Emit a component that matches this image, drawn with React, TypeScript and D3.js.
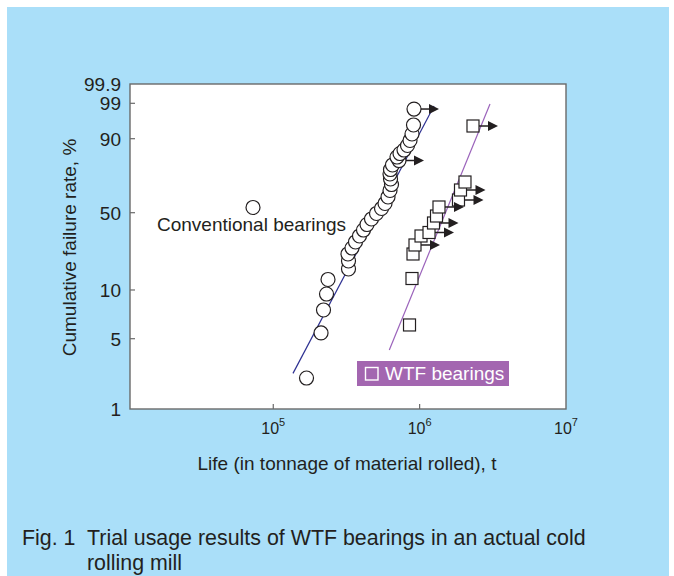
import React from "react";
import * as d3 from "d3";

// ---------------- data ----------------
const xTickExponents = [5, 6, 7];
const yTickValues = [1, 5, 10, 50, 90, 99, 99.9];
const yTickLabels = ["1", "5", "10", "50", "90", "99", "99.9"];

// Conventional bearings: life (t), cumulative failure rate (%), suspended (arrow)
const conventionalLife = [
  1.687e5, 2.12e5, 2.204e5, 2.311e5, 2.366e5, 3.266e5, 3.266e5, 3.24e5, 3.451e5, 3.646e5,
  3.883e5, 4.135e5, 4.369e5, 4.69e5, 5.074e5, 5.49e5, 7.27e4, 5.8e5, 6.081e5, 6.274e5,
  6.424e5, 6.324e5, 6.274e5, 6.324e5, 6.525e5, 7.228e5, 7.003e5, 7.342e5, 7.822e5, 8.263e5,
  8.595e5, 8.868e5, 9.081e5, 9.153e5,
];
const conventionalRate = [
  2.04, 5.43, 7.54, 9.45, 12.72, 16.12, 19.23, 22.38, 25.41, 28.78,
  32.49, 36.53, 40.54, 44.82, 49.33, 52.39, 52.96, 55.28, 59.11, 62.98,
  66.55, 69.81, 72.71, 75.26, 77.75, 80.14, 81.93, 83.65, 85.29, 87.28,
  89.32, 91.99, 95.08, 98.37,
];
const conventionalSuspended = [
  false, false, false, false, false, false, false, false, false, false,
  false, false, false, false, false, false, false, false, false, false,
  false, false, false, false, false, true, false, false, false, false,
  false, false, false, true,
];

// WTF bearings
const wtfLife = [
  8.528e5, 8.868e5, 9.01e5, 9.297e5, 1.022e6, 1.159e6, 1.244e6, 1.304e6, 1.356e6, 1.843e6,
  1.902e6, 2.041e6, 2.315e6,
];
const wtfRate = [
  6.09, 13.01, 22.38, 27.06, 32.49, 34.81, 41.69, 47.25, 53.25, 57.33,
  63.28, 68.03, 94.78,
];
const wtfSuspended = [
  false, false, false, true, false, true, true, false, true, true,
  true, false, true,
];

// Fitted Weibull lines (two end points each)
const conventionalFitLife = [1.364e5, 1.254e6];
const conventionalFitRate = [2.27, 98.73];
const wtfFitLife = [6.205e5, 3.025e6];
const wtfFitRate = [3.87, 98.94];

// ---------------- layout ----------------
const W = 674;
const H = 576;
const plotLeft = 130;
const plotRight = 566;
const plotTop = 84;
const plotBottom = 409;
const plotH = plotBottom - plotTop;
// relative vertical positions of the probability ticks (fraction from top)
const yTickFrac = [1, 0.7837, 0.6338, 0.396, 0.1683, 0.0594, 0];

const FONT = "'Liberation Sans', Arial, Helvetica, sans-serif";
const TEXT = "#231f20";
const BG = "#aadff9";
const AXIS = "#6a6a6a";
const BLUE_LINE = "#2e3192";
const PURPLE_LINE = "#9b63bb";
const LEGEND_FILL = "#a366b0";

const weib = (p: number) => Math.log(-Math.log(1 - p / 100));

export default function App() {
  const x = d3.scaleLog().domain([10500, 1e7]).range([plotLeft, plotRight]);
  const yPiece = d3
    .scaleLinear()
    .domain(yTickValues.map(weib))
    .range(yTickFrac.map((f) => plotTop + f * plotH));
  const y = (p: number) => yPiece(weib(p));

  const line = d3
    .line<[number, number]>()
    .x((d) => x(d[0]))
    .y((d) => y(d[1]));

  const convFit = line(conventionalFitLife.map((v, i) => [v, conventionalFitRate[i]] as [number, number]));
  const wtfFit = line(wtfFitLife.map((v, i) => [v, wtfFitRate[i]] as [number, number]));

  const r = 7;
  const sq = 12;
  const arrowLen = 25;
  const head = 10;

  const arrow = (cx: number, cy: number, start: number, key: string) => {
    const tip = cx + arrowLen;
    return (
      <g key={key}>
        <line x1={cx + start} y1={cy} x2={tip - head + 1} y2={cy} stroke={TEXT} strokeWidth={1.5} />
        <path d={`M${tip},${cy} L${tip - head},${cy - 5} L${tip - head},${cy + 5} Z`} fill={TEXT} />
      </g>
    );
  };

  return (
    <svg
      width={W}
      height={H}
      style={{ position: "absolute", left: 0, top: 0, display: "block" }}
      fontFamily={FONT}
    >
      <rect x={0} y={0} width={W} height={H} fill="#ffffff" />
      <rect x={7} y={7} width={662} height={H - 7} fill={BG} />

      {/* plot frame */}
      <rect x={plotLeft} y={plotTop} width={plotRight - plotLeft} height={plotH} fill="#ffffff" />

      {/* fit lines */}
      <path d={convFit || ""} fill="none" stroke={BLUE_LINE} strokeWidth={1.2} />
      <path d={wtfFit || ""} fill="none" stroke={PURPLE_LINE} strokeWidth={1.2} />

      {/* conventional circles */}
      {conventionalLife.map((v, i) => (
        <circle
          key={"c" + i}
          cx={x(v)}
          cy={y(conventionalRate[i])}
          r={r}
          fill="#ffffff"
          stroke={TEXT}
          strokeWidth={1.2}
        />
      ))}
      {conventionalLife.map((v, i) =>
        conventionalSuspended[i] ? arrow(x(v), y(conventionalRate[i]), r, "ca" + i) : null
      )}

      {/* WTF squares */}
      {wtfLife.map((v, i) => (
        <rect
          key={"s" + i}
          x={x(v) - sq / 2}
          y={y(wtfRate[i]) - sq / 2}
          width={sq}
          height={sq}
          fill="#ffffff"
          stroke={TEXT}
          strokeWidth={1.2}
        />
      ))}
      {wtfLife.map((v, i) =>
        wtfSuspended[i] ? arrow(x(v), y(wtfRate[i]), sq / 2, "sa" + i) : null
      )}

      {/* frame border */}
      <rect
        x={plotLeft}
        y={plotTop}
        width={plotRight - plotLeft}
        height={plotH}
        fill="none"
        stroke={AXIS}
        strokeWidth={1.4}
      />

      {/* y ticks */}
      {yTickValues.map((v, i) => (
        <g key={"yt" + i}>
          {v !== 1 && v !== 99.9 ? (
            <line x1={plotLeft} x2={plotLeft + 5} y1={y(v)} y2={y(v)} stroke={AXIS} strokeWidth={1.2} />
          ) : null}
          <text
            x={121}
            y={y(v)}
            dy="0.36em"
            textAnchor="end"
            fontSize={19}
            fill={TEXT}
          >
            {yTickLabels[i]}
          </text>
        </g>
      ))}

      {/* x ticks */}
      {xTickExponents.map((e) => {
        const tx = x(Math.pow(10, e));
        return (
          <g key={"xt" + e}>
            {e < 7 ? (
              <line x1={tx} x2={tx} y1={plotBottom} y2={plotBottom - 5} stroke={AXIS} strokeWidth={1.2} />
            ) : null}
            <text x={tx} y={434} textAnchor="middle" fontSize={16} fill={TEXT}>
              10
              <tspan dy={-8} fontSize={11}>
                {e}
              </tspan>
            </text>
          </g>
        );
      })}

      {/* axis titles */}
      <text x={347} y={470} textAnchor="middle" fontSize={19} fill={TEXT}>
        Life (in tonnage of material rolled), t
      </text>
      <text
        transform={`translate(76,247.5) rotate(-90)`}
        textAnchor="middle"
        fontSize={19}
        fill={TEXT}
      >
        Cumulative failure rate, %
      </text>

      {/* labels */}
      <text x={157} y={231} fontSize={19} fill={TEXT}>
        Conventional bearings
      </text>
      <rect x={357} y={361} width={152} height={25} fill={LEGEND_FILL} />
      <rect x={365.5} y={367.5} width={12.5} height={12.5} fill="none" stroke="#ffffff" strokeWidth={1.4} />
      <text x={385} y={380} fontSize={19} fill="#ffffff">
        WTF bearings
      </text>

      {/* caption */}
      <text x={22} y={545} fontSize={21.4} fill={TEXT}>
        Fig. 1
      </text>
      <text x={87} y={545} fontSize={21.4} fill={TEXT}>
        Trial usage results of WTF bearings in an actual cold
      </text>
      <text x={87} y={570} fontSize={21.4} fill={TEXT}>
        rolling mill
      </text>
    </svg>
  );
}
